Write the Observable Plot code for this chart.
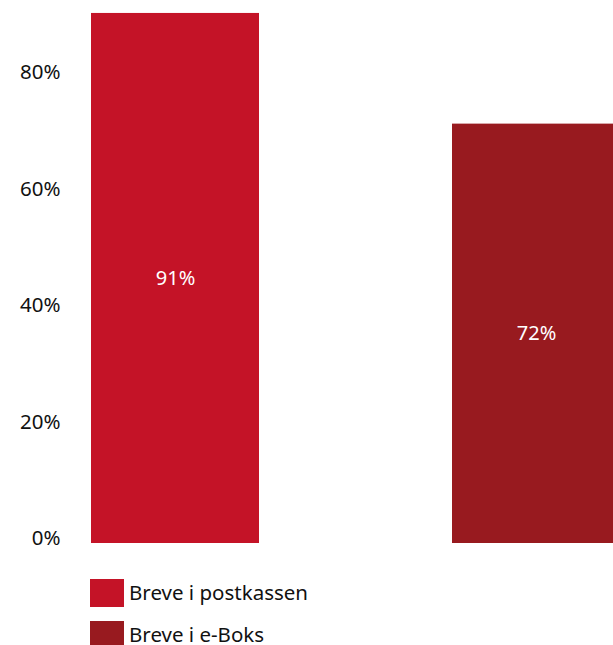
<!DOCTYPE html>
<html>
<head>
<meta charset="utf-8">
<script src="https://cdn.jsdelivr.net/npm/d3@7"></script>
<script src="https://cdn.jsdelivr.net/npm/@observablehq/plot@0.6"></script>
<style>
  html, body { margin: 0; padding: 0; overflow: hidden; background: #fff; }
  body { font-family: "Noto Sans", sans-serif; }
  #legend { position: absolute; left: 90px; top: 579px; }
  .item { display: flex; align-items: center; height: 28px; margin-bottom: 14px; font-size: 20.5px; line-height: 0.85; color: #111; }
  .sw { width: 34px; height: 28px; margin-right: 5px; flex: none; }
</style>
</head>
<body>
<div id="chart"></div>
<div id="legend"></div>
<script>
const categories = ["Breve i postkassen", "Breve i e-Boks"];
const values = [91, 72];
const colors = ["#C41327", "#981A1F"];
const yTicks = [0, 20, 40, 60, 80];

const data = categories.map((c, i) => ({category: c, value: values[i], label: values[i] + "%"}));

const plot = Plot.plot({
  width: 613,
  height: 560,
  marginTop: 1.3,
  marginBottom: 17,
  marginLeft: 60,
  marginRight: 0,
  style: {fontFamily: "'Noto Sans', sans-serif", fontSize: "20.5px", color: "#111", overflow: "hidden"},
  x: {domain: categories, range: [91, 620], paddingInner: 0.535, paddingOuter: 0, axis: null},
  y: {domain: [0, 93], ticks: yTicks, tickFormat: d => d + "%", tickSize: 0, tickPadding: 0, label: null, line: false},
  color: {domain: categories, range: colors},
  marks: [
    Plot.axisY({ticks: yTicks, tickFormat: d => d + "%", tickSize: 0, tickPadding: 0, label: null, dy: -5, fontSize: 20.5}),
    Plot.barY(data, {x: "category", y: "value", fill: "category"}),
    Plot.text(data, {x: "category", y: d => d.value / 2, text: "label", fill: "white", fontSize: 20})
  ]
});
document.getElementById("chart").appendChild(plot);

const legend = document.getElementById("legend");
categories.forEach((c, i) => {
  const item = document.createElement("div");
  item.className = "item";
  const sw = document.createElement("div");
  sw.className = "sw";
  sw.style.background = colors[i];
  const t = document.createElement("span");
  t.textContent = c;
  item.appendChild(sw);
  item.appendChild(t);
  legend.appendChild(item);
});
</script>
</body>
</html>
